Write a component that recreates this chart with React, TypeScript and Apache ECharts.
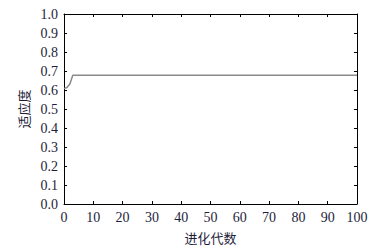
import React, { useEffect, useRef } from "react";
import * as echarts from "echarts";

const generations = [0, 1, 2, 3, 100];
const fitness = [0.607, 0.613, 0.632, 0.678, 0.678];
const xTicks = { min: 0, max: 100, interval: 10 };
const yTicks = { min: 0, max: 1, interval: 0.1 };
const xName = "进化代数";
const yName = "适应度";

export default function App() {
  const ref = useRef<HTMLDivElement>(null);
  useEffect(() => {
    const chart = echarts.init(ref.current!, null, { renderer: "svg" });
    const textColor = "#1e1e3c";
    const font = "Times New Roman, Liberation Serif, DejaVu Serif, serif";
    const axisCommon = {
      axisLine: { show: true, onZero: false, lineStyle: { color: "#000", width: 1 } },
      axisTick: { show: true, inside: true, length: 3, lineStyle: { color: "#000" } },
      splitLine: { show: false },
    };
    chart.setOption({
      animation: false,
      grid: { left: 64, right: 22, top: 14, bottom: 41, show: false },
      xAxis: [
        {
          type: "value",
          ...xTicks,
          ...axisCommon,
          axisLabel: { color: textColor, fontFamily: font, fontSize: 14, margin: 6 },
          name: xName,
          nameLocation: "middle",
          nameGap: 27,
          nameTextStyle: { color: textColor, fontSize: 13, fontFamily: "Noto Sans CJK SC" },
        },
        {
          type: "value",
          position: "top",
          ...xTicks,
          ...axisCommon,
          axisLabel: { show: false },
        },
      ],
      yAxis: [
        {
          type: "value",
          ...yTicks,
          ...axisCommon,
          axisLabel: {
            color: textColor,
            fontFamily: font,
            fontSize: 14,
            margin: 6,
            formatter: (v: number) => v.toFixed(1),
          },
          name: yName,
          nameLocation: "middle",
          nameGap: 28,
          nameTextStyle: { color: textColor, fontSize: 13, fontFamily: "Noto Sans CJK SC" },
        },
        {
          type: "value",
          position: "right",
          ...yTicks,
          ...axisCommon,
          axisLabel: { show: false },
        },
      ],
      series: [
        {
          type: "line",
          xAxisIndex: 0,
          yAxisIndex: 0,
          data: generations.map((g, i) => [g, fitness[i]]),
          showSymbol: false,
          lineStyle: { color: "#8a8a8a", width: 1.5 },
        },
      ],
    });
    return () => chart.dispose();
  }, []);
  return (
    <div
      ref={ref}
      style={{ position: "fixed", left: 0, top: 0, width: 379, height: 249, background: "#fff" }}
    />
  );
}
